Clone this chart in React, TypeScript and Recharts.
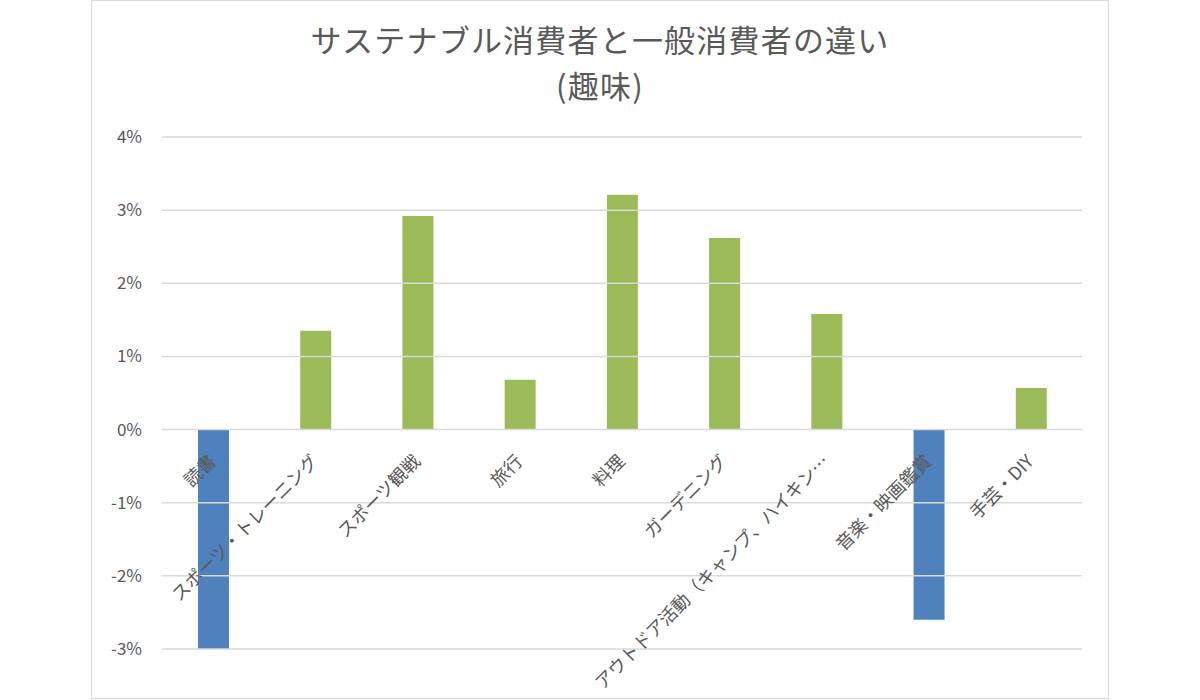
import React from 'react';
import { BarChart, Bar, XAxis, YAxis, ReferenceLine, Cell } from 'recharts';

const categories = [
  '読書',
  'スポーツ・トレーニング',
  'スポーツ観戦',
  '旅行',
  '料理',
  'ガーデニング',
  'アウトドア活動（キャンプ、ハイキン…',
  '音楽・映画鑑賞',
  '手芸・DIY',
];
const values = [-3.0, 1.35, 2.92, 0.68, 3.21, 2.62, 1.58, -2.6, 0.57];
const yTicks = [-3, -2, -1, 0, 1, 2, 3, 4];
const titleLine1 = 'サステナブル消費者と一般消費者の違い';
const titleLine2 = '(趣味)';

const data = categories.map((name, i) => ({ name, value: values[i] }));

const FONT = '"Noto Sans CJK JP", "Noto Sans", sans-serif';
const TEXT = '#595959';
const PLOT_TOP = 137;
const PLOT_BOTTOM = 649;
const PLOT_LEFT = 162;
const PLOT_RIGHT = 1082;
const Y_MIN = -3;
const Y_MAX = 4;
const zeroY = PLOT_TOP + ((Y_MAX - 0) / (Y_MAX - Y_MIN)) * (PLOT_BOTTOM - PLOT_TOP);

const CatTick = (props: any) => {
  const { x, payload } = props;
  const px = x + 4;
  const py = zeroY + 33;
  return (
    <text
      x={px}
      y={py}
      textAnchor="end"
      transform={`rotate(-45 ${px} ${py})`}
      fill={TEXT}
      fontSize={18}
      fontFamily={FONT}
    >
      {payload.value}
    </text>
  );
};

export default function App() {
  return (
    <div style={{ position: 'absolute', left: 0, top: 0, width: 1200, height: 700, background: '#fff' }}>
      <svg width={1200} height={700} style={{ position: 'absolute', left: 0, top: 0 }}>
        <rect x={91.5} y={0.5} width={1017} height={698} fill="#fff" stroke="#D9D9D9" strokeWidth={1} />
        <text x={600} y={52} textAnchor="middle" fill={TEXT} fontSize={31} letterSpacing={1.2} fontFamily={FONT}>
          {titleLine1}
        </text>
        <text x={600} y={98} textAnchor="middle" fill={TEXT} fontSize={31} letterSpacing={1.2} fontFamily={FONT}>
          {titleLine2}
        </text>
      </svg>
      <div style={{ position: 'absolute', left: 0, top: 0 }}>
        <BarChart
          width={1200}
          height={700}
          data={data}
          margin={{ top: PLOT_TOP, right: 1200 - PLOT_RIGHT, bottom: 700 - PLOT_BOTTOM - 20, left: PLOT_LEFT - 60 }}
        >
          <XAxis
            dataKey="name"
            height={20}
            axisLine={false}
            tickLine={false}
            interval={0}
            tick={<CatTick />}
          />
          <YAxis
            width={60}
            domain={[Y_MIN, Y_MAX]}
            ticks={yTicks}
            interval={0}
            axisLine={false}
            tickLine={false}
            tickMargin={14}
            tickFormatter={(v: number) => `${v}%`}
            tick={{ fill: TEXT, fontSize: 17, fontFamily: FONT }}
          />
          {yTicks.map((t) => (
            <ReferenceLine key={t} y={t} stroke="#D9D9D9" strokeWidth={1.5} />
          ))}
          <Bar dataKey="value" barSize={31} isAnimationActive={false}>
            {data.map((d, i) => (
              <Cell key={i} fill={d.value < 0 ? '#4F81BD' : '#9BBB59'} />
            ))}
          </Bar>
        </BarChart>
      </div>
    </div>
  );
}
